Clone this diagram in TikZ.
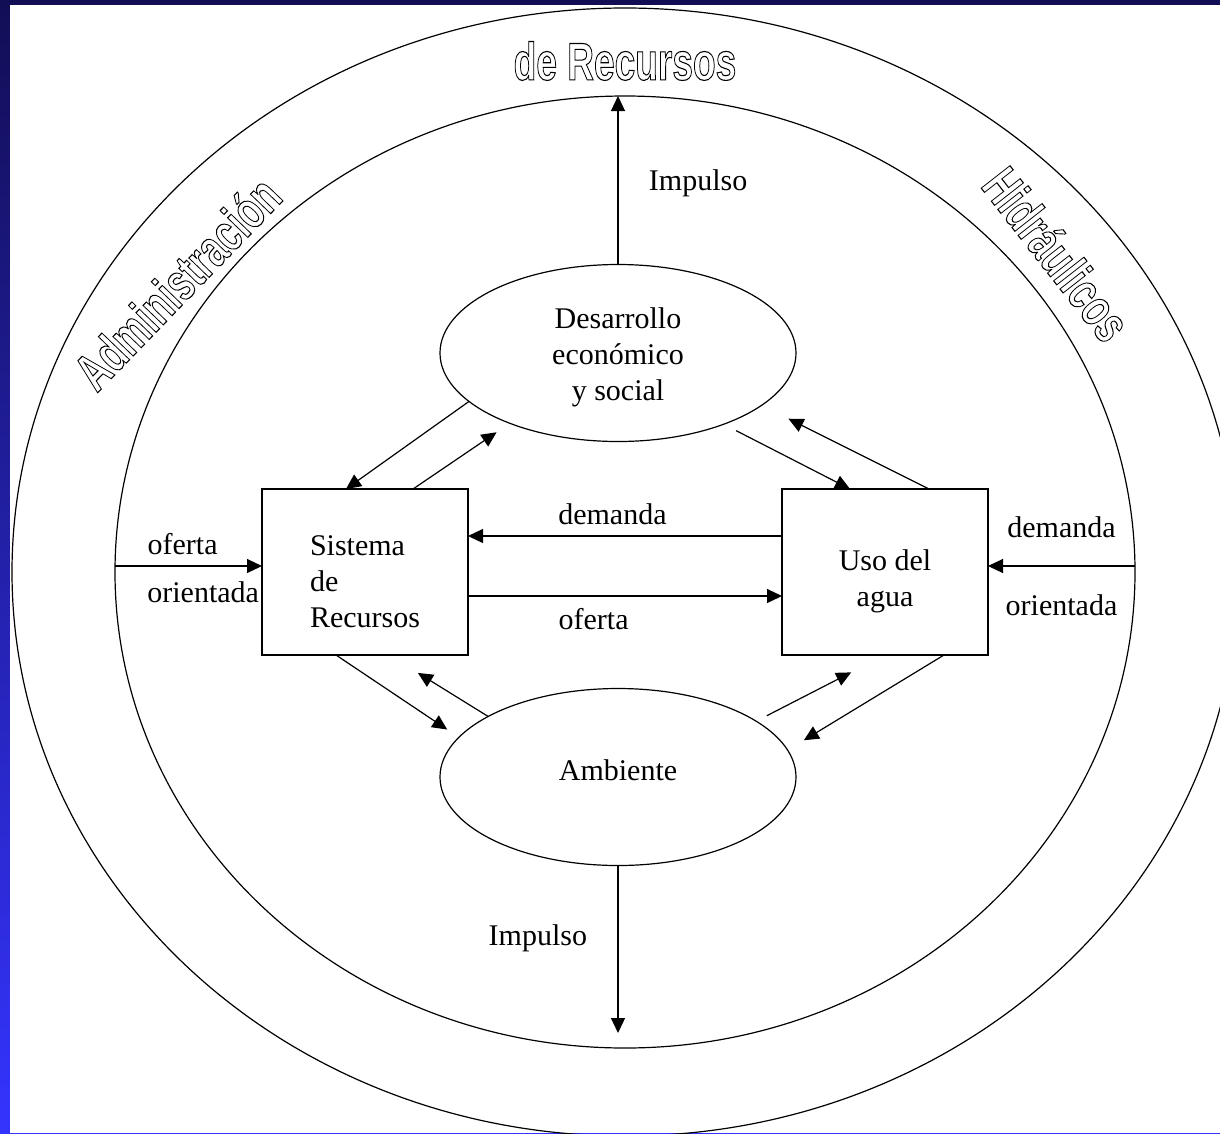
\documentclass[tikz,border=0pt]{standalone}
\usepackage{fontspec}
\setmainfont{Liberation Serif}
\newfontfamily\ringfont{Liberation Sans}
\usetikzlibrary{shapes.geometric, arrows.meta}

\definecolor{navy}{HTML}{120E55}
\definecolor{brightblue}{HTML}{3434FF}

% hollow letters: stroke only
\newcommand{\ringtext}[1]{\special{pdf:literal direct 1 Tr 1.1 w}#1\special{pdf:literal direct 0 Tr}}

\begin{document}
\begin{tikzpicture}[x = 1pt, y = -1pt, line width = 1.2pt,
		>={Triangle[length=15pt, width=14pt]},
		txt/.style = {font = \fontsize{30}{36}\selectfont},
		blob/.style = {ellipse, draw, txt, align = center, minimum width = 356pt, minimum height = 177pt, inner sep = 0pt, outer sep = 0pt},
		block/.style = {rectangle, draw, txt, minimum width = 206pt, minimum height = 166pt, outer sep = 0pt},
		ring/.style = {ellipse, draw, inner sep = 0pt, outer sep = 0pt},
		ringlabel/.style = {font = \ringfont\bfseries\fontsize{53}{60}\selectfont, xscale = 0.7}]

		\useasboundingbox (0,0) rectangle (1220,1133);
		\shade [top color = navy, bottom color = brightblue] (0,0) rectangle (1220,1133);
		\fill [white] (10,5) rectangle (1220,1133);
		\clip (0,0) rectangle (1220,1133);

		\node [ring, minimum width = 1226pt, minimum height = 1128pt] (outer) at (625,572) {};
		\node [ring, minimum width = 1020pt, minimum height = 952pt] (inner) at (625,572) {};

		\node [ringlabel] (rec) at (625,61) {\ringtext{de Recursos}};
		\node [rotate = 46, ringlabel] (adm) at (177,283) {\ringtext{Administración}};
		\node [rotate = -52, ringlabel] (hid) at (1057,254) {\ringtext{Hidráulicos}};

		\node [blob] (D) at (618,353) {\rule{0pt}{29pt}Desarrollo\\económico\\y social};
		\node [blob] (A) at (618,777) {Ambiente\rule[-14pt]{0pt}{14pt}};
		\node [block, align = left] (S) at (365,572) {\rule{0pt}{39pt}Sistema\\de\\Recursos};
		\node [block, align = center] (U) at (885,572) {\rule{0pt}{39pt}Uso del\\agua};

		% impulso
		\draw [->] (D.north) -- node [txt, right = 27pt, pos = 0.48] (imp1) {Impulso} (D.north |- inner.north);
		\draw [->, shorten >= 15pt] (A.south) -- node [txt, left = 27pt, pos = 0.4] (imp2) {Impulso} (A.south |- inner.south);

		% from the ring
		\draw [->] ([yshift = 6pt]inner.west) -- node [txt, above = 7pt, pos = 0.46] {oferta} node [txt, below = 12pt, pos = 0.6] {orientada} ([yshift = 6pt]S.west);
		\draw [->] ([yshift = 6pt]inner.east) -- node [txt, above = 24pt, pos = 0.5] {demanda} node [txt, below = 25pt, pos = 0.5] {orientada} ([yshift = 6pt]U.east);

		\draw [->] ([yshift = 36pt]U.west) -- node [txt, above = 7pt, pos = 0.54] {demanda} ([yshift = 36pt]S.east);
		\draw [->] ([yshift = -24pt]S.east) -- node [txt, below = 8pt, pos = 0.4] {oferta} ([yshift = -24pt]U.west);

		\draw [->] (D.198) -- ([xshift = -19pt]S.north);
		\draw [->, shorten >= 16pt] ([xshift = 48pt]S.north) -- (D.213);
		\draw [->, shorten <= 14pt] (D.326.5) -- ([xshift = -35pt]U.north);
		\draw [->, shorten >= 30pt] ([xshift = 44pt]U.north) -- (D.340.6);

		\draw [->, shorten >= 14pt] ([xshift = -29pt]S.south) -- (A.166);
		\draw [->, shorten >= 34pt] (A.155) -- ([xshift = 24pt]S.south);
		\draw [->, shorten <= 12pt, shorten >= 38pt] (A.22) -- (U.south);
		\draw [->, shorten >= 19pt] ([xshift = 59pt]U.south) -- (A.9);

\end{tikzpicture}
\end{document}
